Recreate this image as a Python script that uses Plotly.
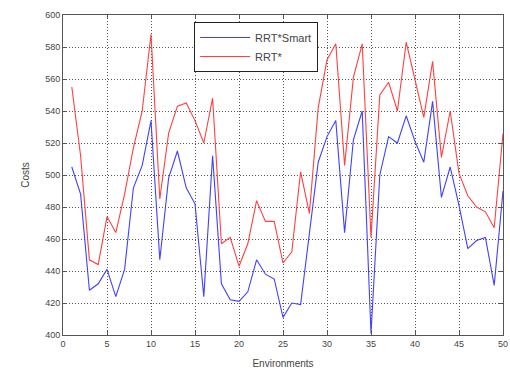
import plotly.graph_objects as go

environments = list(range(1, 51))
rrt_smart = [505, 488, 428, 432, 441, 424, 441, 492, 506, 534,
             447, 498, 515, 492, 482, 424, 512, 432, 422, 421,
             427, 447, 438, 435, 411, 420, 419, 464, 508, 524,
             534, 464, 522, 540, 401, 500, 524, 520, 537, 521,
             508, 546, 486, 505, 481, 454, 459, 461, 431, 490]
rrt_star = [555, 512, 447, 444, 474, 464, 488, 517, 540, 588,
            485, 526, 543, 545, 534, 520, 548, 457, 461, 443,
            457, 484, 471, 471, 445, 452, 502, 476, 542, 572,
            582, 506, 561, 582, 461, 550, 558, 540, 583, 560,
            536, 571, 511, 540, 501, 487, 480, 477, 467, 526]

x_ticks = list(range(0, 51, 5))
y_ticks = list(range(400, 601, 20))

fig = go.Figure()
fig.add_trace(go.Scatter(x=environments, y=rrt_smart, mode="lines", name="RRT*Smart",
                         line=dict(color="#4040ff", width=1.1), cliponaxis=False))
fig.add_trace(go.Scatter(x=environments, y=rrt_star, mode="lines", name="RRT*",
                         line=dict(color="#ff4040", width=1.1), cliponaxis=False))

axis_common = dict(showline=True, linecolor="#555", linewidth=1, mirror="ticks",
                   ticks="inside", ticklen=4, tickcolor="#555", automargin=False,
                   showgrid=True, gridcolor="#555", griddash="1px,2px", gridwidth=1,
                   zeroline=False, tickfont=dict(size=9, color="#444",
                                                 family="Liberation Sans, Arial"))

fig.update_xaxes(range=[0, 50], tickvals=x_ticks, **axis_common,
                 title=dict(text="Environments", standoff=12,
                            font=dict(size=10, color="#444", family="Liberation Sans, Arial")))
fig.update_yaxes(range=[400, 600], tickvals=y_ticks, **axis_common,
                 title=dict(text="Costs", standoff=13,
                            font=dict(size=10, color="#444", family="Liberation Sans, Arial")))

fig.update_layout(
    width=510, height=372,
    margin=dict(l=63, r=7, t=15, b=37),
    paper_bgcolor="white", plot_bgcolor="white",
    showlegend=True,
    legend=dict(x=0.298, y=0.978, xanchor="left", yanchor="top",
                bgcolor="white", bordercolor="#222", borderwidth=1,
                font=dict(size=11, color="#444", family="Liberation Sans, Arial"),
                tracegroupgap=0, itemwidth=50),
)

fig.write_html("out.html", config={"displayModeBar": False},
               post_script="document.body.style.margin='0';document.body.style.overflow='hidden';")
